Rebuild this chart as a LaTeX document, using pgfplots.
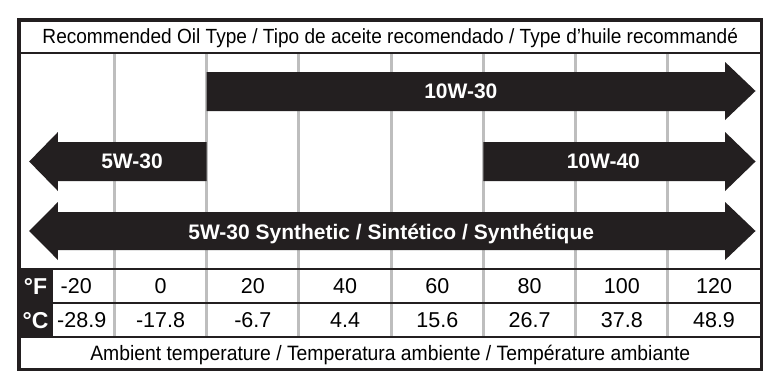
\documentclass[border=0pt]{standalone}
\usepackage{pgfplots}
\pgfplotsset{compat=1.18}
\usepackage{fontspec}
\setmainfont{Liberation Sans}
\newfontfamily\condsans{Liberation Sans}[FakeStretch=0.93]
\definecolor{oilblack}{RGB}{35,31,32}
\definecolor{gridgray}{RGB}{190,190,190}
\newcommand{\titlefont}{\condsans\fontsize{20.5bp}{23bp}\selectfont}
\newcommand{\footfont}{\condsans\fontsize{20.8bp}{23bp}\selectfont}
\newcommand{\arrowfont}{\fontsize{21bp}{24bp}\selectfont\bfseries}
\newcommand{\unitfont}{\fontsize{23bp}{26bp}\selectfont\bfseries}
\newcommand{\cellfont}{\fontsize{21.5bp}{24bp}\selectfont}
\begin{document}
\begin{tikzpicture}
\begin{axis}[
  scale only axis, width=782bp, height=392bp,
  xmin=-34.82, xmax=134.74, ymin=0, ymax=392, y dir=reverse,
  axis lines=none, ticks=none, clip=false,
]
% bounding box
\path (rel axis cs:0,0) rectangle (rel axis cs:1,1);
% grid lines (column boundaries, degrees F)
\foreach \t in {-10,10,30,50,70,90,110}{
  \edef\tmp{\noexpand\draw[gridgray, line width=3bp] (axis cs:\t,54) -- (axis cs:\t,337);}\tmp
}
% oil range arrows
\addplot[fill=oilblack, draw=none] coordinates {
 (10,72) (122.4,72) (122.4,62) (129,91) (122.4,120) (122.4,111) (10,111)} -- cycle;
\addplot[fill=oilblack, draw=none] coordinates {
 (10,142) (-22.25,142) (-22.25,132) (-28.5,161.5) (-22.25,191) (-22.25,181) (10,181)} -- cycle;
\addplot[fill=oilblack, draw=none] coordinates {
 (70,142) (122.4,142) (122.4,132) (129,161.5) (122.4,191) (122.4,181) (70,181)} -- cycle;
\addplot[fill=oilblack, draw=none] coordinates {
 (-22.25,212) (122.4,212) (122.4,202) (129,231) (122.4,260) (122.4,250) (-22.25,250)
 (-22.25,260) (-28.5,231) (-22.25,202)} -- cycle;
\node[white, anchor=base, font=\arrowfont] at (axis cs:65.1,98.5) {10W-30};
\node[white, anchor=base, font=\arrowfont] at (axis cs:-6.2,168.5) {5W-30};
\node[white, anchor=base, font=\arrowfont] at (axis cs:96,168.5) {10W-40};
\node[white, anchor=base, font=\arrowfont] at (axis cs:50,239) {5W-30 Synthetic / Sintético / Synthétique};
% table structure
\fill[oilblack] (axis cs:-30.7,269) rectangle (axis cs:-23.3,337);
\foreach \yy in {53,269,303,337}{
  \edef\tmp{\noexpand\draw[oilblack, line width=2.5bp] (axis cs:-30.7,\yy) -- (axis cs:130.3,\yy);}\tmp
}
\draw[oilblack, line width=3.5bp] (axis cs:-30.7,20) rectangle (axis cs:130.3,369.5);
% title and footer
\node[anchor=base, font=\titlefont] at (axis cs:49.8,43.5) {Recommended Oil Type / Tipo de aceite recomendado / Type d’huile recommandé};
\node[anchor=base, font=\footfont] at (axis cs:49.8,360) {Ambient temperature / Temperatura ambiente / Température ambiante};
% unit cells
\node[white, anchor=base, font=\unitfont, inner sep=0pt] at (axis cs:-27.1,294) {°F};
\node[white, anchor=base, font=\unitfont, inner sep=0pt] at (axis cs:-27.1,328) {°C};
% temperature values
\node[anchor=base, font=\cellfont] at (axis cs:-18.3,293.5) {-20};
\node[anchor=base, font=\cellfont] at (axis cs:-17.1,327.5) {-28.9};
\foreach \f/\c in {0/-17.8,20/-6.7,40/4.4,60/15.6,80/26.7,100/37.8,120/48.9}{
  \edef\tmp{\noexpand\node[anchor=base, font=\noexpand\cellfont] at (axis cs:\f,293.5) {\f};
    \noexpand\node[anchor=base, font=\noexpand\cellfont] at (axis cs:\f,327.5) {\c};}\tmp
}
\end{axis}
\end{tikzpicture}
\end{document}
